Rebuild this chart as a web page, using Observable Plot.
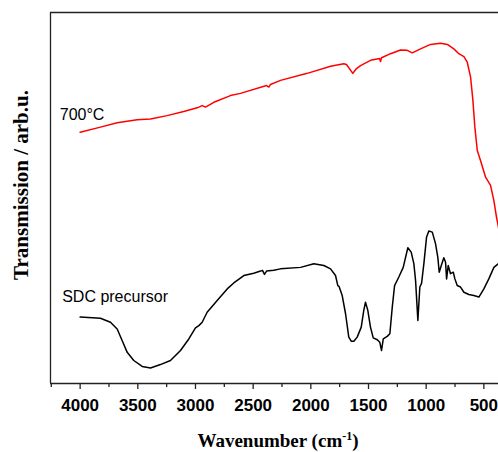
<!DOCTYPE html>
<html>
<head>
<meta charset="utf-8">
<script src="https://cdn.jsdelivr.net/npm/d3@7"></script>
<script src="https://cdn.jsdelivr.net/npm/@observablehq/plot@0.6"></script>
<style>
  html, body { margin: 0; padding: 0; background: #fff; }
  #chart { width: 498px; height: 452px; }
  svg { display: block; }
</style>
</head>
<body>
<div id="chart"></div>
<script>
// ---- Data (wavenumber in cm^-1, transmission in arbitrary units) ----
const redWn = [4000, 3824, 3679, 3506, 3390, 3246, 3102, 2985, 2942, 2913, 2841, 2697, 2610, 2384, 2364, 2350, 2263, 2031, 1829, 1714, 1691, 1636, 1604, 1569, 1483, 1404, 1396, 1387, 1309, 1222, 1164, 1121, 1049, 962, 875, 817, 760, 717, 673, 644, 615, 595, 578, 557, 529, 485, 442, 413, 390, 373, 355];
const redT  = [67.7, 69.1, 70.3, 71.1, 71.3, 72.2, 73.3, 74.3, 74.9, 74.5, 75.8, 77.6, 78.2, 80.3, 79.9, 80.6, 81.7, 83.6, 85.5, 86.2, 86.0, 83.6, 84.9, 85.7, 87.1, 87.6, 86.8, 87.8, 88.9, 89.9, 89.8, 89.1, 90.2, 91.4, 91.7, 91.4, 90.2, 88.9, 88.1, 86.6, 82.6, 76.3, 69.1, 62.8, 60.1, 55.6, 53.4, 49.3, 44.8, 42.1, 38.0];

const blackWn = [4000, 3824, 3737, 3679, 3636, 3592, 3535, 3462, 3390, 3304, 3217, 3130, 3058, 3000, 2971, 2942, 2899, 2812, 2725, 2668, 2581, 2495, 2436, 2419, 2402, 2384, 2321, 2263, 2089, 1974, 1887, 1829, 1786, 1766, 1756, 1728, 1699, 1671, 1650, 1627, 1598, 1563, 1541, 1526, 1506, 1483, 1459, 1424, 1402, 1387, 1372, 1338, 1315, 1294, 1274, 1237, 1199, 1159, 1130, 1107, 1092, 1072, 1055, 1040, 1020, 997, 977, 947, 919, 899, 887, 869, 847, 832, 823, 809, 789, 765, 751, 731, 702, 673, 630, 587, 543, 500, 457, 413, 373, 355];
const blackT  = [17.9, 17.6, 16.5, 14.7, 11.6, 8.4, 6.2, 4.6, 4.2, 5.1, 6.2, 8.9, 12.0, 15.0, 15.6, 16.5, 19.2, 22.4, 25.5, 27.1, 29.1, 29.7, 30.3, 30.5, 29.4, 30.3, 30.5, 30.9, 31.3, 32.3, 31.8, 30.9, 29.1, 26.4, 26.2, 23.7, 18.8, 12.5, 11.4, 11.4, 12.5, 15.2, 19.7, 21.9, 19.7, 15.2, 12.3, 11.8, 11.1, 8.9, 12.0, 12.7, 13.4, 20.6, 26.4, 28.7, 31.3, 36.6, 35.4, 32.3, 27.8, 17.0, 26.0, 27.0, 32.3, 39.4, 41.1, 40.8, 37.7, 34.0, 30.0, 31.8, 33.9, 32.7, 28.2, 31.8, 29.6, 30.0, 28.2, 26.4, 26.0, 24.6, 24.0, 23.7, 23.3, 25.5, 28.2, 31.3, 32.3, 33.0];

const labelText = ["700°C", "SDC precursor"];
const labelWn = [4177, 4156];
const labelT = [72.5, 23.3];

const majorTicks = [4000, 3500, 3000, 2500, 2000, 1500, 1000, 500];
const minorTicks = [4250, 3750, 3250, 2750, 2250, 1750, 1250, 750];

// ---- Build tables ----
const red = redWn.map((w, i) => ({wn: w, t: redT[i]}));
const black = blackWn.map((w, i) => ({wn: w, t: blackT[i]}));
const labels = labelText.map((s, i) => ({text: s, wn: labelWn[i], t: labelT[i]}));

const chart = Plot.plot({
  width: 498,
  height: 452,
  marginLeft: 50,
  marginRight: 0,
  marginTop: 12,
  marginBottom: 69,
  style: {fontFamily: "'Liberation Sans', Arial, sans-serif", background: "#fff", color: "#000"},
  x: {domain: [4257, 373], axis: null},
  y: {domain: [0, 100], axis: null},
  marks: [
    Plot.line(black, {x: "wn", y: "t", stroke: "#000", strokeWidth: 1.5, clip: true}),
    Plot.line(red, {x: "wn", y: "t", stroke: "#ff0000", strokeWidth: 1.5, clip: true}),
    Plot.ruleY([0, 100], {stroke: "#222", strokeWidth: 1.3}),
    Plot.ruleX([4257], {stroke: "#222", strokeWidth: 1.3}),
    Plot.axisX(majorTicks, {anchor: "bottom", tickSize: 6, tickPadding: 9, label: null, tickFormat: d3.format("d"), fontSize: 17, fontWeight: "bold", stroke: "#222", strokeWidth: 1.3}),
    Plot.axisX(minorTicks, {anchor: "bottom", tickSize: 4, tickFormat: () => "", label: null, stroke: "#222", strokeWidth: 1.3}),
    Plot.text(labels, {x: "wn", y: "t", text: "text", textAnchor: "start", fontSize: 16, fill: "#000"})
  ]
});

const svg = d3.select(chart);
svg.selectAll('g[aria-label="x-axis tick label"] text').attr("font-weight", "bold").attr("font-size", 17);

// Axis titles
const xl = svg.append("text")
  .attr("x", 278).attr("y", 447)
  .attr("text-anchor", "middle")
  .attr("font-family", "'Liberation Serif', 'Times New Roman', serif")
  .attr("font-weight", "bold").attr("font-size", 19).attr("fill", "#000");
xl.append("tspan").text("Wavenumber (cm");
xl.append("tspan").attr("dy", -7).attr("font-size", 12).text("-1");
xl.append("tspan").attr("dy", 7).text(")");

svg.append("text")
  .attr("transform", "translate(28,185) rotate(-90)")
  .attr("text-anchor", "middle")
  .attr("font-family", "'Liberation Serif', 'Times New Roman', serif")
  .attr("font-weight", "bold").attr("font-size", 21).attr("fill", "#000")
  .text("Transmission / arb.u.");

document.getElementById("chart").appendChild(chart);
</script>
</body>
</html>
